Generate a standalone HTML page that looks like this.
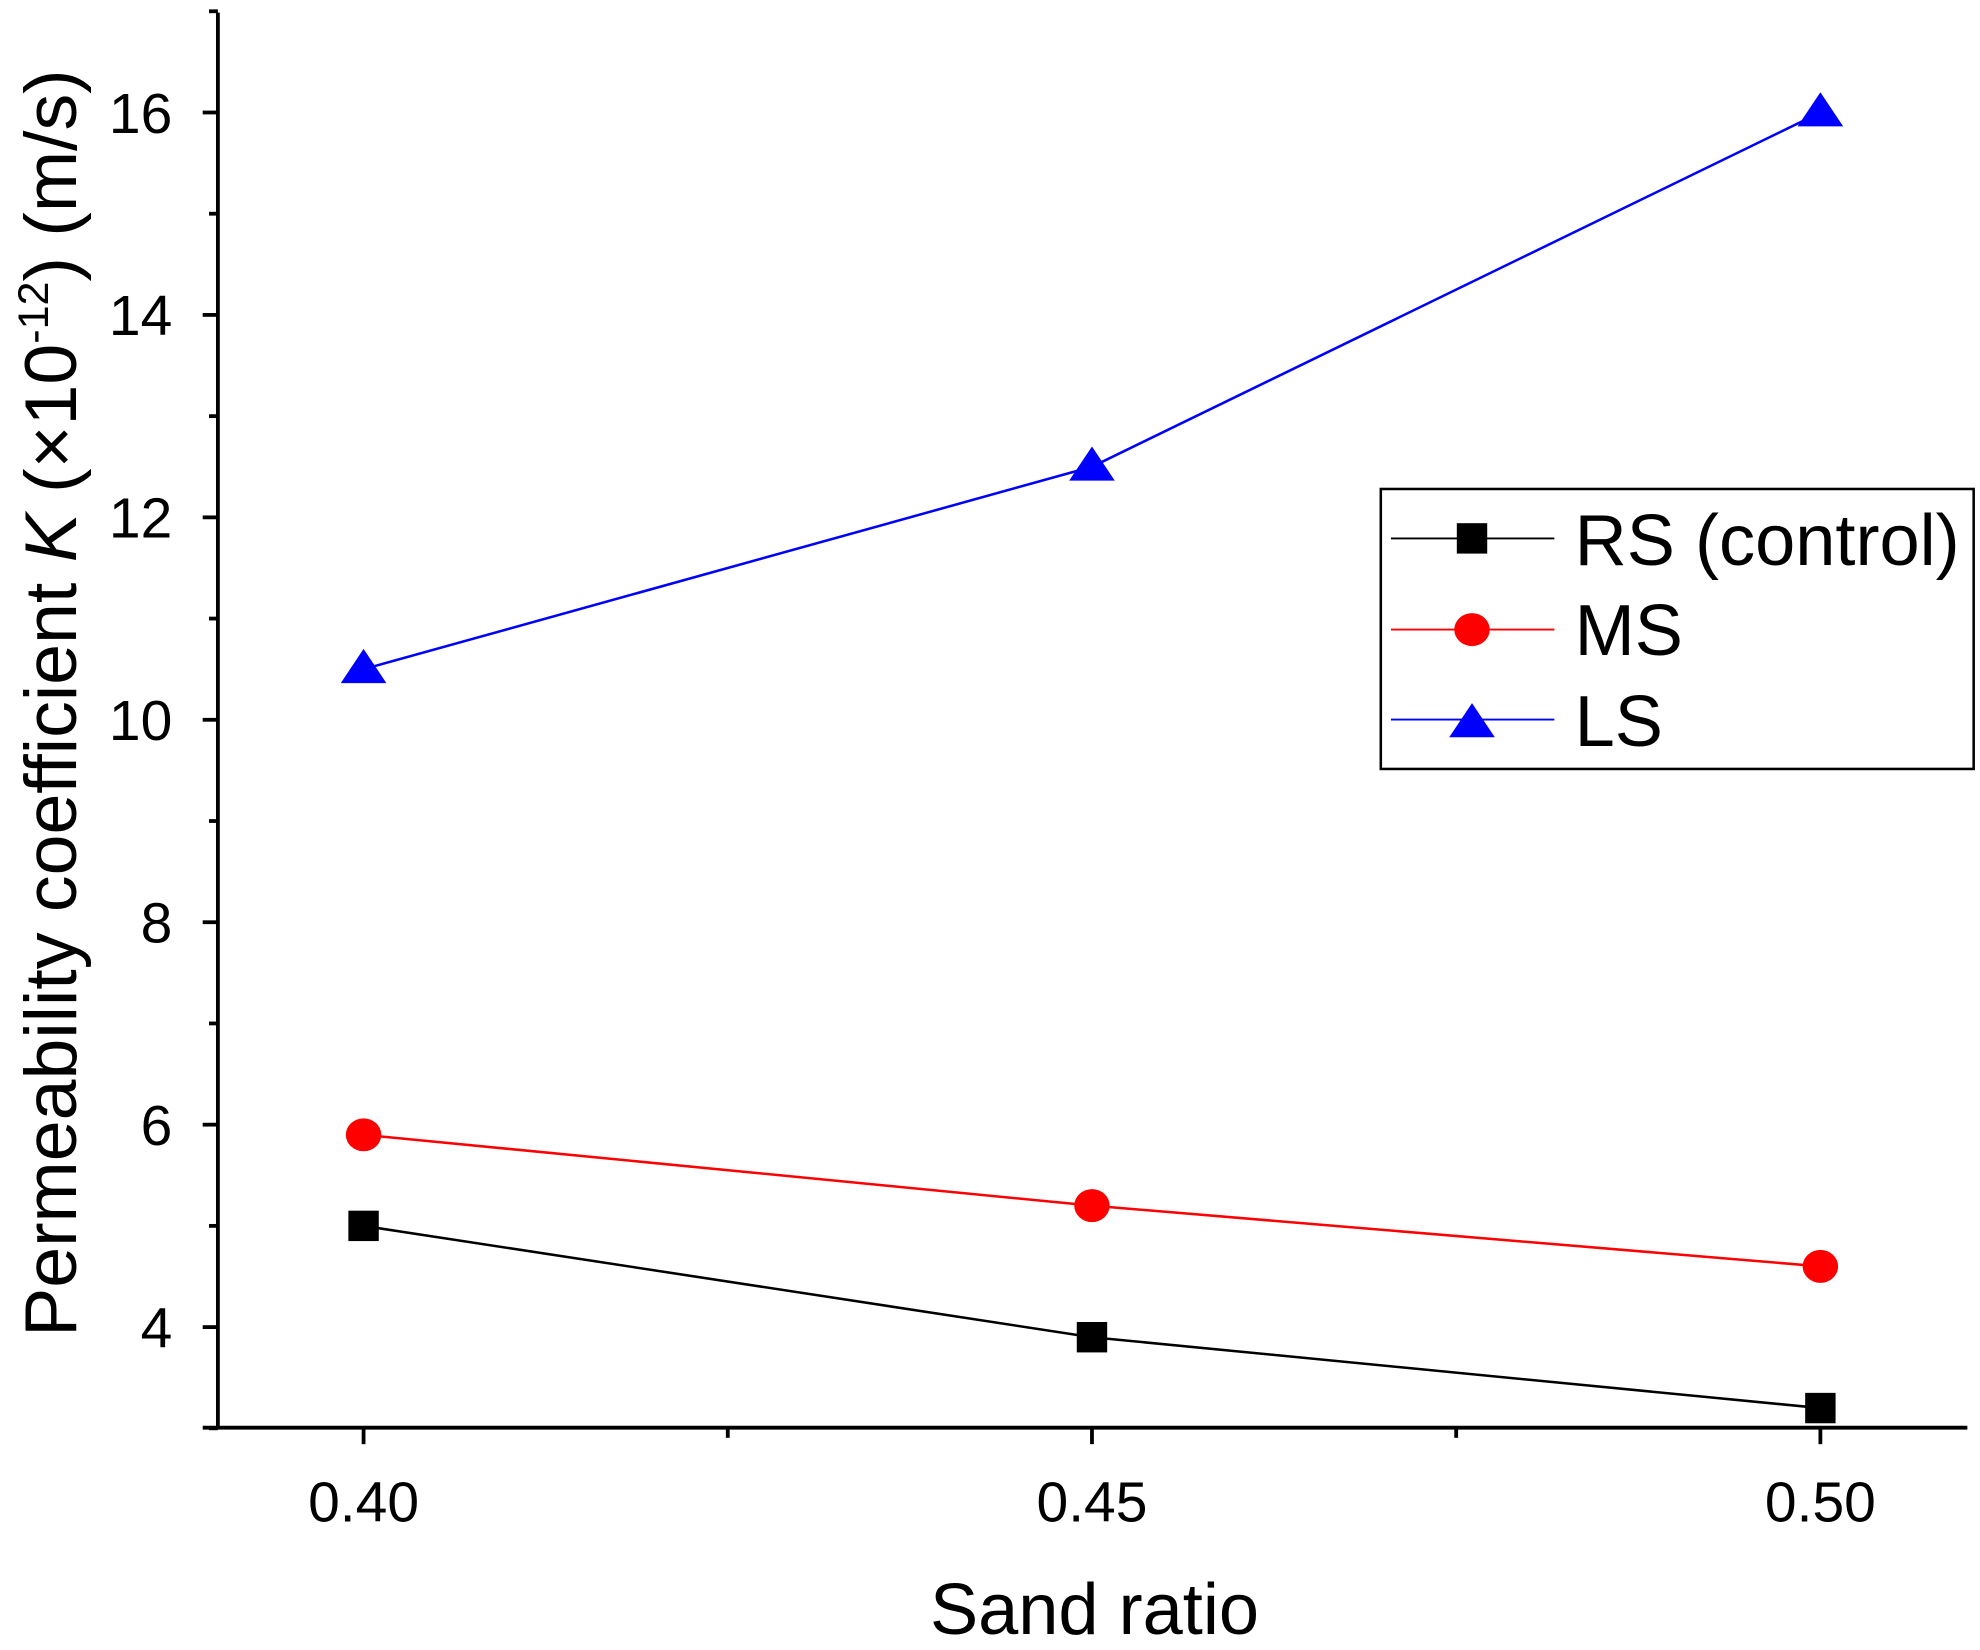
<!DOCTYPE html>
<html><head><meta charset="utf-8"><style>html,body{margin:0;padding:0;background:#fff}svg{display:block}text{font-family:"Liberation Sans",Arial,sans-serif}</style></head>
<body>
<svg id="chart" width="1980" height="1650" viewBox="0 0 1563 1302.5" preserveAspectRatio="none" xmlns="http://www.w3.org/2000/svg">
<g id="axes"></g>
<g id="series"></g>
<text x="864" y="1290" font-size="57" text-anchor="middle">Sand ratio</text>
<text transform="translate(60,555) rotate(-90)" font-size="58" text-anchor="middle">Permeability coefficient <tspan font-style="italic">K</tspan> (×10<tspan font-size="34" dy="-22">-12</tspan><tspan dy="22">)  (m/s)</tspan></text>
<g>
<rect x="1090" y="386" width="468" height="221" fill="#fff" stroke="#000" stroke-width="2"/>
<line x1="1098" y1="425" x2="1227" y2="425" stroke="#000" stroke-width="1.5"/>
<rect x="1150" y="413" width="24" height="24" fill="#000"/>
<text x="1243" y="446" font-size="57">RS (control)</text>
<line x1="1098" y1="497" x2="1227" y2="497" stroke="#f00" stroke-width="1.5"/>
<ellipse cx="1162" cy="497" rx="14" ry="13" fill="#f00"/>
<text x="1243" y="517" font-size="57">MS</text>
<line x1="1098" y1="568" x2="1227" y2="568" stroke="#00f" stroke-width="1.5"/>
<polygon points="1162,555 1180,582 1144,582" fill="#00f"/>
<text x="1243" y="589" font-size="57">LS</text>
</g>
</svg>
<script>
const categories = [0.40, 0.45, 0.50];
const rsValues = [5.0, 3.9, 3.2];
const msValues = [5.9, 5.2, 4.6];
const lsValues = [10.5, 12.5, 16.0];
const yTicks = [4, 6, 8, 10, 12, 14, 16];
const xTickLabels = ["0.40", "0.45", "0.50"];

const NS = "http://www.w3.org/2000/svg";
const xPos = v => 287 + (v - 0.40) / 0.05 * 575;
const yPos = v => 1127.5 - (v - 3) * 79.9;
function mk(tag, attrs, parent) {
  const e = document.createElementNS(NS, tag);
  for (const k in attrs) e.setAttribute(k, attrs[k]);
  parent.appendChild(e);
  return e;
}
const axes = document.getElementById('axes');
const series = document.getElementById('series');
let el = mk('line', {x1:172, y1:10, x2:172, y2:1128, stroke:'#000', 'stroke-width':3}, axes);


el = mk('line', {x1:160, y1:1127, x2:1553, y2:1127, stroke:'#000', 'stroke-width':3}, axes);


for (let v = 3; v <= 17; v++) {
  const y = yPos(v);
  const major = yTicks.includes(v);
  el = mk('line', {x1: major ? 160 : 165, y1:y, x2:172, y2:y, stroke:'#000', 'stroke-width':3}, axes);
  
  
  if (major) {
    el = mk('text', {x:136, y:y+16, 'font-size':45, 'text-anchor':'end'}, axes);
    el.textContent = v;
    
    
  }
}
categories.forEach((c, i) => {
  const x = xPos(c);
  el = mk('line', {x1:x, y1:1127, x2:x, y2:1140, stroke:'#000', 'stroke-width':3}, axes);
  
  
  el = mk('text', {x:x, y:1201, 'font-size':45, 'text-anchor':'middle'}, axes);
  el.textContent = xTickLabels[i];
  
  
  if (i < categories.length - 1) {
    const xm = xPos(c + 0.025);
    el = mk('line', {x1:xm, y1:1127, x2:xm, y2:1135, stroke:'#000', 'stroke-width':3}, axes);
    
    
  }
});
function drawSeries(vals, color, name, shape) {
  const pts = vals.map((v, i) => xPos(categories[i]) + ',' + yPos(v)).join(' ');
  el = mk('polyline', {points:pts, fill:'none', stroke:color, 'stroke-width':2}, series);
  
  
  vals.forEach((v, i) => {
    const x = xPos(categories[i]), y = yPos(v);
    let m;
    if (shape === 'square') m = mk('rect', {x:x-12, y:y-12, width:24, height:24, fill:color}, series);
    else if (shape === 'circle') m = mk('ellipse', {cx:x, cy:y, rx:14, ry:13, fill:color}, series);
    else m = mk('polygon', {points:`${x},${y-16} ${x+18},${y+11} ${x-18},${y+11}`, fill:color}, series);
    
    
  });
}
drawSeries(rsValues, '#000', 'rs', 'square');
drawSeries(msValues, '#f00', 'ms', 'circle');
drawSeries(lsValues, '#00f', 'ls', 'triangle');
</script>
</body></html>
